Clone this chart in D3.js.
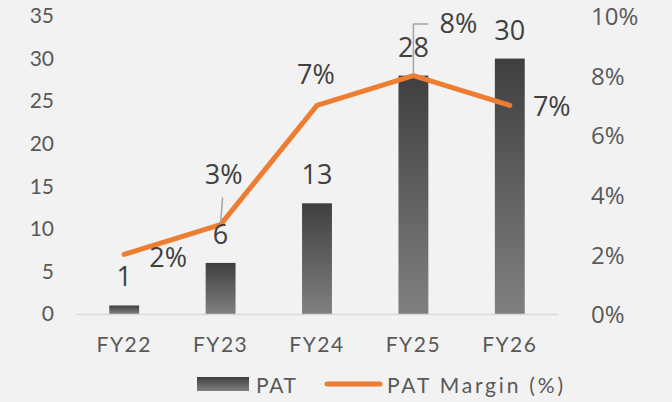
<!DOCTYPE html>
<html><head><meta charset="utf-8">
<script src="https://cdn.jsdelivr.net/npm/d3@7"></script>
<style>html,body{margin:0;padding:0;background:#f2f2f2;}svg{display:block;}</style>
</head><body>
<script>
const categories = ["FY22","FY23","FY24","FY25","FY26"];
const patValues = [1, 6, 13, 28, 30];
const marginValues = [0.02, 0.03, 0.07, 0.08, 0.07];
const leftTicks = [0,5,10,15,20,25,30,35];
const rightTicks = [0,0.02,0.04,0.06,0.08,0.10];

const W = 672, H = 402;
const svg = d3.select("body").append("svg").attr("width", W).attr("height", H);
svg.append("rect").attr("width", W).attr("height", H).attr("fill", "#f2f2f2");

const axisFont = "Lato, 'Noto Sans', sans-serif";
const labelFont = "'Open Sans', 'Noto Sans', sans-serif";

const x = d3.scaleBand().domain(categories).range([76, 558]).paddingInner(0.69).paddingOuter(0.345);
const yL = d3.scaleLinear().domain([0, 35]).range([314, 16]);
const yR = d3.scaleLinear().domain([0, 0.10]).range([314, 16]);

const defs = svg.append("defs");
const grad = defs.append("linearGradient").attr("id","barGrad").attr("x1",0).attr("y1",0).attr("x2",0).attr("y2",1);
grad.append("stop").attr("offset","0%").attr("stop-color","#3f3f3f");
grad.append("stop").attr("offset","100%").attr("stop-color","#808080");

// left axis
const la = svg.append("g").attr("transform","translate(54,0)")
  .call(d3.axisLeft(yL).tickValues(leftTicks).tickSize(0).tickPadding(0));
la.select(".domain").remove();
la.selectAll("text").attr("font-family", axisFont).attr("font-size", 21).attr("fill","#595959");

// right axis
const ra = svg.append("g").attr("transform","translate(591,0)")
  .call(d3.axisRight(yR).tickValues(rightTicks).tickSize(0).tickPadding(0).tickFormat(d3.format(".0%")));
ra.select(".domain").remove();
ra.selectAll("text").attr("font-family", labelFont).attr("font-size", 24).attr("fill","#595959").attr("dy","0.36em");

// bars
svg.append("g").selectAll("rect").data(categories).join("rect")
  .attr("x", d => x(d)).attr("width", x.bandwidth())
  .attr("y", (d,i) => yL(patValues[i]))
  .attr("height", (d,i) => yL(0) - yL(patValues[i]))
  .attr("fill","url(#barGrad)");

// x axis
const xa = svg.append("g").attr("transform","translate(0,314)")
  .call(d3.axisBottom(x).tickSize(0).tickPadding(23));
xa.select(".domain").attr("stroke","#d9d9d9").attr("stroke-width",1.5);
xa.selectAll("text").attr("font-family", axisFont).attr("font-size", 21).attr("fill","#595959").attr("letter-spacing", 1.5);

// line
const cx = d => x(d) + x.bandwidth()/2;
const line = d3.line().x((d,i) => cx(categories[i])).y(d => yR(d));
svg.append("path").datum(marginValues).attr("d", line)
  .attr("fill","none").attr("stroke","#ed7d31").attr("stroke-width",5)
  .attr("stroke-linecap","round").attr("stroke-linejoin","round");

// bar data labels
svg.append("g").selectAll("text").data(categories).join("text")
  .attr("x", d => cx(d)).attr("y", (d,i) => yL(patValues[i]) - 19)
  .attr("text-anchor","middle").attr("font-family", labelFont).attr("font-size", 27).attr("fill","#404040")
  .text((d,i) => patValues[i]);

// leader lines
const lead = svg.append("g").attr("stroke","#a6a6a6").attr("stroke-width",1.5).attr("fill","none");
lead.append("path").attr("d", `M${cx("FY23")},${yR(marginValues[1])-2} L${cx("FY23")+2},${yR(marginValues[1])-27}`);
lead.append("path").attr("d", `M${cx("FY25")},${yR(marginValues[3])} L${cx("FY25")},24 L${cx("FY25")+15},24`);

// margin labels (offsets relative to points)
const mOffsets = [[44,13],[3,-41],[-1,-21],[45,-43],[42,11]];
svg.append("g").selectAll("text").data(categories).join("text")
  .attr("x", (d,i) => cx(d) + mOffsets[i][0]).attr("y", (d,i) => yR(marginValues[i]) + mOffsets[i][1])
  .attr("text-anchor","middle").attr("font-family", labelFont).attr("font-size", 27).attr("fill","#404040")
  .text((d,i) => d3.format(".0%")(marginValues[i]));

// legend
const lg = svg.append("g");
lg.append("rect").attr("x",197).attr("y",377).attr("width",52).attr("height",14).attr("fill","url(#barGrad)");
lg.append("text").attr("x",256).attr("y",393).attr("font-family", axisFont).attr("font-size",21).attr("fill","#595959")
  .attr("textLength",40).attr("lengthAdjust","spacing").text("PAT");
lg.append("line").attr("x1",327).attr("x2",380).attr("y1",384).attr("y2",384).attr("stroke","#ed7d31").attr("stroke-width",5).attr("stroke-linecap","round");
lg.append("text").attr("x",387).attr("y",393).attr("font-family", axisFont).attr("font-size",21).attr("fill","#595959")
  .attr("textLength",176).attr("lengthAdjust","spacing").text("PAT Margin (%)");
</script>
</body></html>
